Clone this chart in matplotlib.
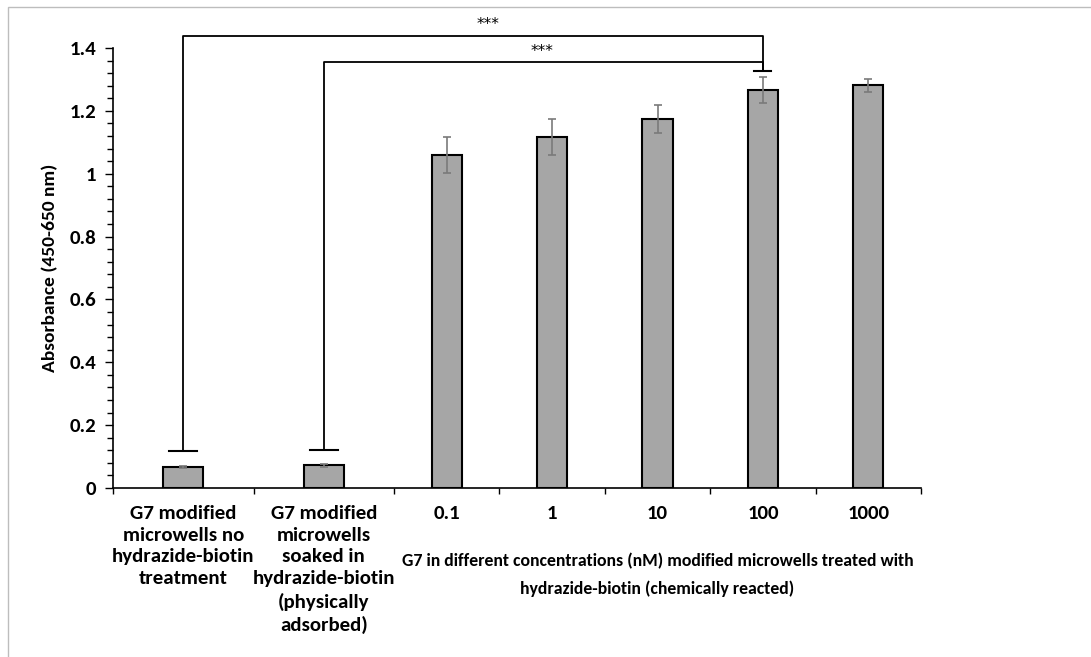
import matplotlib
matplotlib.use("Agg")
import matplotlib.pyplot as plt
import matplotlib.patches as mpatches
import numpy as np

plt.rcParams['font.family'] = ['Carlito', 'Lato', 'DejaVu Sans']

# data
categories = ['G7 modified\nmicrowells no\nhydrazide-biotin\ntreatment',
              'G7 modified\nmicrowells\nsoaked in\nhydrazide-biotin\n(physically\nadsorbed)',
              '0.1', '1', '10', '100', '1000']
absorbance = [0.068, 0.072, 1.060, 1.117, 1.174, 1.266, 1.281]
abs_err = [0.003, 0.004, 0.057, 0.058, 0.046, 0.041, 0.020]
sig_pairs = [(0, 5, 1.439, '***'), (1, 5, 1.354, '***')]
xlabel_text = 'G7 in different concentrations (nM) modified microwells treated with\nhydrazide-biotin (chemically reacted)'
ylabel_text = 'Absorbance (450-650 nm)'

# layout: first two category slots are wider
slot_w = np.array([4/3, 4/3, 1, 1, 1, 1, 1])
edges = np.concatenate([[0], np.cumsum(slot_w)])
centers = (edges[:-1] + edges[1:]) / 2
bar_w = 0.286 * slot_w

fig = plt.figure(figsize=(10.91, 6.57), dpi=100)
ax = fig.add_axes([113/1091, 1 - 488/657, 808/1091, 440/657])

ax.bar(centers, absorbance, width=bar_w, color='#a6a6a6', edgecolor='black', linewidth=1.5, zorder=2)
ax.errorbar(centers, absorbance, yerr=abs_err, fmt='none', ecolor='#7a7a7a', elinewidth=1.2,
            capsize=3, capthick=1.2, zorder=3)

ax.set_xlim(edges[0], edges[-1])
ax.set_ylim(0, 1.4)
ax.set_yticks(np.arange(0, 1.41, 0.2))
ax.set_yticklabels(['0', '0.2', '0.4', '0.6', '0.8', '1', '1.2', '1.4'])
ax.set_yticks(np.arange(0, 1.41, 0.04), minor=True)
ax.tick_params(axis='y', which='major', length=6, width=1, labelsize=15, pad=6)
ax.tick_params(axis='y', which='minor', length=4, width=1)
for lab in ax.get_yticklabels():
    lab.set_fontweight('bold')

ax.set_xticks(edges)
ax.set_xticklabels([])
ax.set_xticks(centers, minor=True)
ax.set_xticklabels(categories, minor=True)
ax.tick_params(axis='x', which='major', length=4, width=1, direction='out')
ax.tick_params(axis='x', which='minor', length=0, labelsize=15, pad=12)
for lab in ax.get_xticklabels(minor=True):
    lab.set_fontweight('bold')
    lab.set_verticalalignment('top')
    lab.set_linespacing(1.35)

for s in ['top', 'right']:
    ax.spines[s].set_visible(False)
for s in ['left', 'bottom']:
    ax.spines[s].set_linewidth(1.2)

ax.set_ylabel(ylabel_text, fontsize=14, fontweight='bold', labelpad=8)
ax.text(centers[2:].mean(), -0.205, xlabel_text, ha='center', va='top', fontsize=12.8,
        fontweight='bold', linespacing=1.85, transform=ax.transData)

# significance brackets
for i, j, y, label in sig_pairs:
    low_i = absorbance[i] + 0.05
    low_j = absorbance[j] + 0.062
    xi, xj = centers[i], centers[j]
    ax.plot([xi, xi, xj, xj], [low_i, y, y, low_j], color='black', lw=1.3, clip_on=False, zorder=4)
    cw = 0.1 * slot_w[i]
    ax.plot([xi - cw, xi + cw], [low_i, low_i], color='black', lw=1.5, clip_on=False)
ax.plot([centers[5] - 0.08, centers[5] + 0.08], [absorbance[5] + 0.062] * 2, color='black', lw=1.5, clip_on=False)
ax.text(centers[3] - 0.61, sig_pairs[0][2] + 0.035, sig_pairs[0][3], ha='center', va='center',
        fontsize=11, family='DejaVu Sans')
ax.text(centers[3] - 0.1, sig_pairs[1][2] + 0.035, sig_pairs[1][3], ha='center', va='center',
        fontsize=11, family='DejaVu Sans')

# chart area border
fig.add_artist(mpatches.Rectangle((8/1091, -0.1), 1.2, 1 - 7/657 + 0.1, transform=fig.transFigure,
                                  fill=False, edgecolor='#bdbdbd', linewidth=1))

fig.savefig('out.png', dpi=100)
